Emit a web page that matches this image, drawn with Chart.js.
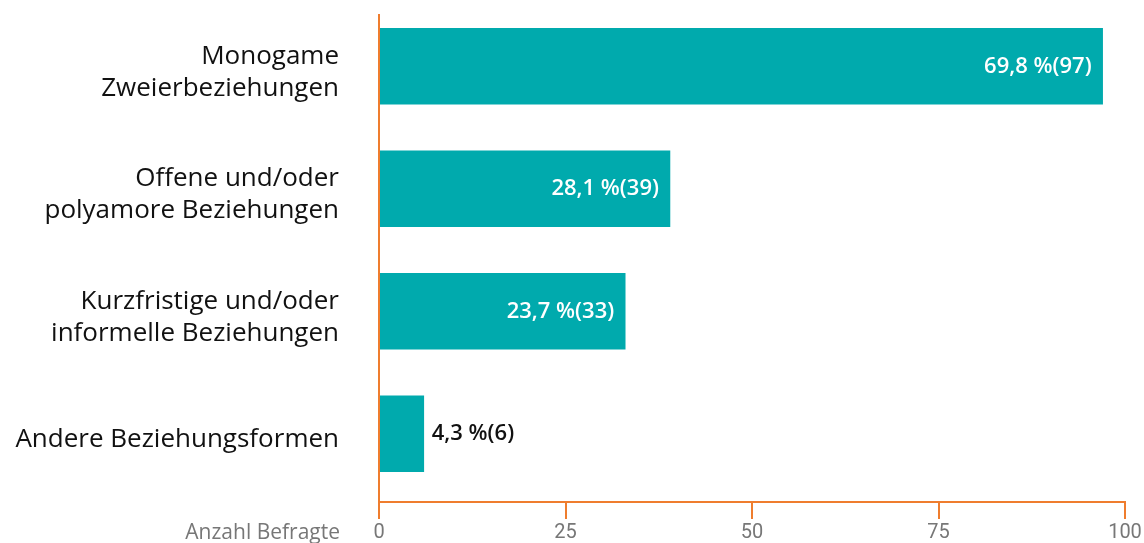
<!DOCTYPE html>
<html><head><meta charset="utf-8">
<script src="https://cdn.jsdelivr.net/npm/chart.js@4"></script>
<style>html,body{margin:0;padding:0;background:#fff}#wrap{width:1144px;height:543px;position:relative}</style>
</head><body><div id="wrap"><canvas id="c"></canvas></div>
<script>
const categories = [
  ["Monogame", "Zweierbeziehungen"],
  ["Offene und/oder", "polyamore Beziehungen"],
  ["Kurzfristige und/oder", "informelle Beziehungen"],
  ["Andere Beziehungsformen"]
];
const counts = [97, 39, 33, 6];
const percents = ["69,8 %", "28,1 %", "23,7 %", "4,3 %"];
const xTickValues = [0, 25, 50, 75, 100];
const axisTitle = "Anzahl Befragte";

const TEAL = '#00AAAD', ORANGE = '#EF7D2E', GREY = '#777777';
const LABEL_FONT = "'Open Sans', 'Noto Sans', sans-serif";
const TICK_FONT = "Roboto, sans-serif";

const overlay = {
  id: 'overlay',
  afterDatasetsDraw(chart) {
    const {ctx, chartArea: a, scales: {x}} = chart;
    const axisY = Math.round(a.bottom) + 7;
    const x0 = Math.round(x.getPixelForValue(0));
    ctx.save();
    // value labels
    ctx.font = "600 22px " + LABEL_FONT;
    ctx.textBaseline = 'middle';
    const meta = chart.getDatasetMeta(0);
    meta.data.forEach((bar, i) => {
      const txt = percents[i] + "(" + counts[i] + ")";
      const w = ctx.measureText(txt).width;
      const barW = bar.x - bar.base;
      if (w + 20 < barW) {
        ctx.fillStyle = '#ffffff';
        ctx.textAlign = 'right';
        ctx.fillText(txt, bar.x - 11, bar.y);
      } else {
        ctx.fillStyle = '#111111';
        ctx.textAlign = 'left';
        ctx.fillText(txt, bar.x + 8, bar.y);
      }
    });
    // axes
    ctx.strokeStyle = ORANGE;
    ctx.lineWidth = 2;
    ctx.beginPath();
    ctx.moveTo(x0, Math.round(a.top) + 9);
    ctx.lineTo(x0, axisY + 17);
    ctx.moveTo(x0, axisY);
    ctx.lineTo(Math.round(x.getPixelForValue(100)) + 1, axisY);
    xTickValues.forEach(v => {
      const px = Math.round(x.getPixelForValue(v));
      ctx.moveTo(px, axisY);
      ctx.lineTo(px, axisY + 17);
    });
    ctx.stroke();
    // axis title
    ctx.fillStyle = GREY;
    ctx.font = "21px " + LABEL_FONT;
    ctx.textAlign = 'right';
    ctx.textBaseline = 'middle';
    ctx.fillText(axisTitle, x0 - 39, 533);
    ctx.restore();
  }
};

function zeroPad(s) {
  s.paddingTop = 0; s.paddingBottom = 0; s.paddingLeft = 0; s.paddingRight = 0;
}

new Chart(document.getElementById('c'), {
  type: 'bar',
  data: {
    labels: categories,
    datasets: [{
      data: counts,
      backgroundColor: TEAL,
      borderWidth: 0,
      barThickness: 76
    }]
  },
  options: {
    indexAxis: 'y',
    responsive: true,
    maintainAspectRatio: false,
    animation: false,
    layout: { padding: { top: 5, right: 19, left: 0, bottom: 0 } },
    plugins: { legend: { display: false }, tooltip: { enabled: false } },
    scales: {
      x: {
        min: 0, max: 100,
        grid: { display: false, drawTicks: false },
        border: { display: false },
        ticks: {
          stepSize: 25,
          autoSkip: false,
          maxRotation: 0,
          padding: 26,
          color: GREY,
          font: { family: TICK_FONT, size: 20 }
        },
        afterFit(s) { s.height = 48; zeroPad(s); }
      },
      y: {
        grid: { display: false, drawTicks: false },
        border: { display: false },
        ticks: {
          padding: 40,
          labelOffset: 6,
          color: '#111111',
          font: { family: LABEL_FONT, size: 26, lineHeight: 1.23 }
        },
        afterFit(s) { s.width = 379; zeroPad(s); }
      }
    }
  },
  plugins: [overlay]
});
</script>
</body></html>
